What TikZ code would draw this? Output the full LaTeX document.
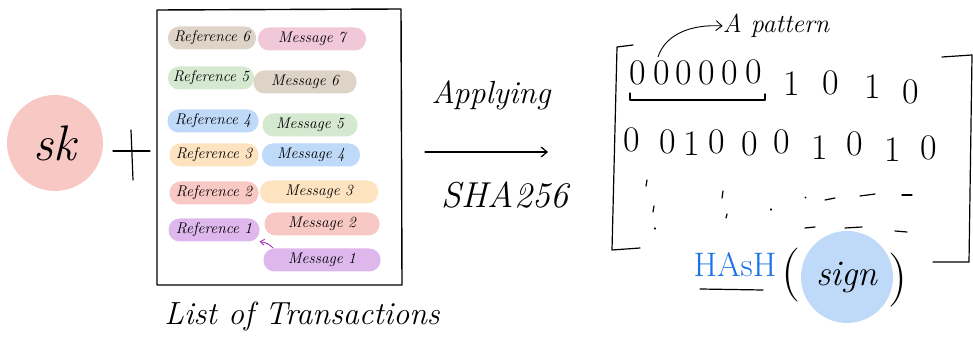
\documentclass[tikz,border=0pt]{standalone}
\usepackage{fontspec}
\setmainfont{Latin Modern Roman}
\usetikzlibrary{arrows.meta}
\definecolor{ctan}{HTML}{DDD3C6}
\definecolor{cpink}{HTML}{F0C8D8}
\definecolor{cgreen}{HTML}{D5E8D0}
\definecolor{cblue}{HTML}{BFD9F8}
\definecolor{corange}{HTML}{FDE3C0}
\definecolor{cred}{HTML}{F8C8C4}
\definecolor{cpurple}{HTML}{DEB8EC}
\definecolor{hashblue}{HTML}{1A73E8}
\definecolor{arrowpurple}{HTML}{A020C0}
\tikzset{
  pill/.style={rectangle, rounded corners=11pt, minimum height=23pt, inner sep=0pt, font=\fontsize{15.5}{18}\selectfont\itshape},
  digit/.style={inner sep=0pt, font=\fontsize{36}{38}\selectfont},
  ink/.style={line width=1.2pt, line cap=round, line join=round},
  big/.style={inner sep=0pt, font=\fontsize{32}{36}\selectfont\itshape},
  barb/.style={-{Straight Barb[length=6pt,width=10pt]}}
}
\begin{document}
\begin{tikzpicture}[x=1pt,y=-1pt]
\useasboundingbox (0,0) rectangle (973,344);
% sk circle
\node[circle, fill=cred, minimum size=96pt, inner sep=0pt, font=\fontsize{50}{54}\selectfont\itshape] (sk) at (55,143) {sk};
% plus
\coordinate (p1) at (113,151); \coordinate (p2) at (150,151);
\coordinate (p3) at (131,130); \coordinate (p4) at (133,180);
\draw[ink] (p1) -- (p2); \draw[ink] (p3) -- (p4);
% list box
\draw[ink, line width=1.4pt] (157,10) -- (401,9) -- (402,285) -- (157,285) -- cycle;
% pills
\node[pill, fill=ctan, minimum width=88pt] (ref6) at (212,38) {Reference 6};
\node[pill, fill=cpink, minimum width=108pt] (msg7) at (312,39) {Message 7};
\node[pill, fill=cgreen, minimum width=86pt] (ref5) at (211,78) {Reference 5};
\node[pill, fill=ctan, minimum width=103pt] (msg6) at (305,82) {Message 6};
\node[pill, fill=cblue, minimum width=91pt] (ref4) at (213,121) {Reference 4};
\node[pill, fill=cgreen, minimum width=95pt] (msg5) at (310,125) {Message 5};
\node[pill, fill=corange, minimum width=89pt] (ref3) at (214,155) {Reference 3};
\node[pill, fill=cblue, minimum width=98pt] (msg4) at (311,155) {Message 4};
\node[pill, fill=cred, minimum width=89pt] (ref2) at (214,193) {Reference 2};
\node[pill, fill=corange, minimum width=118pt] (msg3) at (319,192) {Message 3};
\node[pill, fill=cpurple, minimum width=91pt] (ref1) at (214,230) {Reference 1};
\node[pill, fill=cred, minimum width=115pt] (msg2) at (322,224) {Message 2};
\node[pill, fill=cpurple, minimum width=117pt] (msg1) at (322,260) {Message 1};
\draw[arrowpurple, line width=0.8pt, -{Straight Barb[length=4pt,width=6pt]}] (msg1.north west) ++(10,0) coordinate (m1a) to[bend right=20] (ref1.south east);
% list caption
\node[big] (cap) at (302,316) {List of Transactions};
% applying
\node[big] (app) at (491,95) {Applying};
\coordinate (a1) at (425,152); \coordinate (a2) at (548,152);
\draw[ink, barb] (a1) -- (a2);
\node[inner sep=0pt, font=\fontsize{36}{40}\selectfont\itshape] (sha) at (505,195) {SHA256};
% brackets
\draw[ink] (633,45) -- (617,47) -- (612,250) -- (640,248);
\draw[ink] (942,57) -- (972,55) -- (969,262) -- (933,262);
% row 1
\node[digit] (r1a) at (638,73) {0};
\node[digit] (r1b) at (662,73) {0};
\node[digit] (r1c) at (684,73) {0};
\node[digit] (r1d) at (707,73) {0};
\node[digit] (r1e) at (730,73) {0};
\node[digit] (r1f) at (754,72) {0};
\node[digit] (r1g) at (792,84) {1};
\node[digit] (r1h) at (831,83) {0};
\node[digit] (r1i) at (873,87) {1};
\node[digit] (r1j) at (911,92) {0};
\draw[ink] (630,93) -- (630,100) -- (765,100) -- (765,94);
% pattern arrow
\coordinate (pa) at (658,57);
\node[inner sep=0pt, font=\fontsize{26}{30}\selectfont\itshape] (pat) at (776,26) {A pattern};
\draw[line width=0.9pt, barb] (pa) .. controls (665,35) and (690,24) .. (pat.west);
% row 2
\node[digit] (r2a) at (632,140) {0};
\node[digit] (r2b) at (668,142) {0};
\node[digit] (r2c) at (692,144) {1};
\node[digit] (r2d) at (717,142) {0};
\node[digit] (r2e) at (750,144) {0};
\node[digit] (r2f) at (782,142) {0};
\node[digit] (r2g) at (820,148) {1};
\node[digit] (r2h) at (855,144) {0};
\node[digit] (r2i) at (893,150) {1};
\node[digit] (r2j) at (929,148) {0};
% row 3 dots/dashes
\draw[ink] (647,180) -- (646,186);
\draw[ink] (654,206) -- (653,212);
\draw[ink] (655,228) -- (655,229);
\draw[ink] (723,191) -- (722,198);
\draw[ink] (727,214) -- (726,218);
\draw[ink] (771,209) -- (771,210);
\draw[ink] (805,197) -- (806,198);
\draw[ink] (825,200) -- (835,198);
\draw[ink] (860,196) -- (875,194);
\draw[ink] (902,195) -- (912,195);
\draw[ink] (805,228) -- (815,227);
\draw[ink] (845,228) -- (862,227);
\draw[ink] (895,231) -- (907,232);
% hash
\node[inner sep=0pt, text=hashblue, font=\fontsize{34}{38}\selectfont] (hash) at (735,265) {HAsH};
\draw[ink] (700,289) -- (763,290);
\node[circle, fill=cblue, minimum size=92pt, inner sep=0pt, font=\fontsize{36}{40}\selectfont\itshape] (sign) at (847,277) {sign};
\node[inner sep=0pt, font=\fontsize{54}{58}\selectfont] (lp) at (791,275) {(};
\node[inner sep=0pt, font=\fontsize{54}{58}\selectfont] (rp) at (898,280) {)};
\end{tikzpicture}
\end{document}
